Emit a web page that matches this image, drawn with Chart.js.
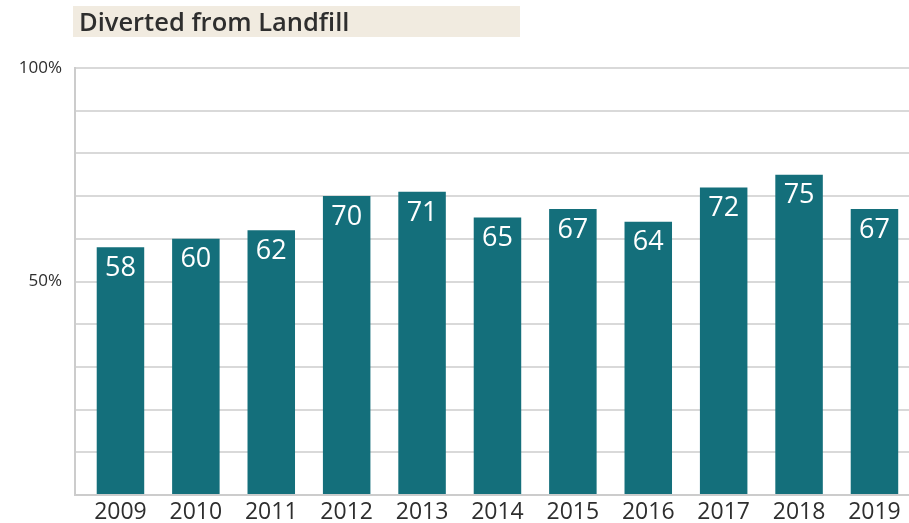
<!DOCTYPE html>
<html><head><meta charset="utf-8">
<script src="https://cdn.jsdelivr.net/npm/chart.js@4/dist/chart.umd.min.js"></script>
<style>
html,body{margin:0;padding:0;background:#fff;}
#wrap{position:relative;width:909px;height:523px;}
#title{position:absolute;left:73px;top:6px;width:447px;height:31px;background:#f1ebe0;color:#2e2e2e;font-family:"Open Sans",sans-serif;font-weight:600;font-size:25.5px;line-height:31px;padding-left:6px;box-sizing:border-box;white-space:nowrap;}
canvas{position:absolute;left:0;top:0;}
</style></head>
<body><div id="wrap"><canvas id="c" width="909" height="523"></canvas><div id="title">Diverted from Landfill</div></div>
<script>
const years = ['2009','2010','2011','2012','2013','2014','2015','2016','2017','2018','2019'];
const diverted = [58,60,62,70,71,65,67,64,72,75,67];
const yTickLabels = {50:'50%',100:'100%'};

const points = diverted.map((v,i)=>({x:i,y:v}));

const barLabels = {
  id:'barLabels',
  afterDatasetsDraw(chart){
    const ctx = chart.ctx;
    const meta = chart.getDatasetMeta(0);
    ctx.save();
    ctx.fillStyle = '#ffffff';
    ctx.font = '27px "Open Sans", sans-serif';
    ctx.textAlign = 'center';
    ctx.textBaseline = 'middle';
    meta.data.forEach((bar,i)=>{
      ctx.fillText(String(diverted[i]), bar.x, bar.y + 21);
    });
    ctx.restore();
  }
};

new Chart(document.getElementById('c'),{
  type:'bar',
  data:{datasets:[{data:points,backgroundColor:'#146f7b',categoryPercentage:1,barPercentage:0.63}]},
  options:{
    responsive:false,animation:false,
    layout:{padding:{top:68,right:0,left:0,bottom:0}},
    plugins:{legend:{display:false},tooltip:{enabled:false}},
    scales:{
      x:{
        type:'linear',min:-0.603,max:10.458,offset:false,
        afterBuildTicks(s){s.ticks = years.map((_,i)=>({value:i}));},
        afterFit(s){s.height=28;},
        grid:{display:false,drawTicks:false},
        border:{display:true,color:'#cccccc',width:2},
        ticks:{color:'#2e2e2e',font:{family:'"Open Sans", sans-serif',size:23},padding:4,maxRotation:0,autoSkip:false,
          callback:v=>years[v]}
      },
      y:{
        min:0,max:100,
        afterFit(s){s.width=75;},
        grid:{color:'#d9d9d9',lineWidth:2,drawTicks:false},
        border:{display:true,color:'#cccccc',width:2},
        ticks:{stepSize:10,color:'#2e2e2e',padding:13,font:{family:'"Open Sans", sans-serif',size:17},
          callback:v=>yTickLabels[v]||''}
      }
    }
  },
  plugins:[barLabels]
});
</script></body></html>
